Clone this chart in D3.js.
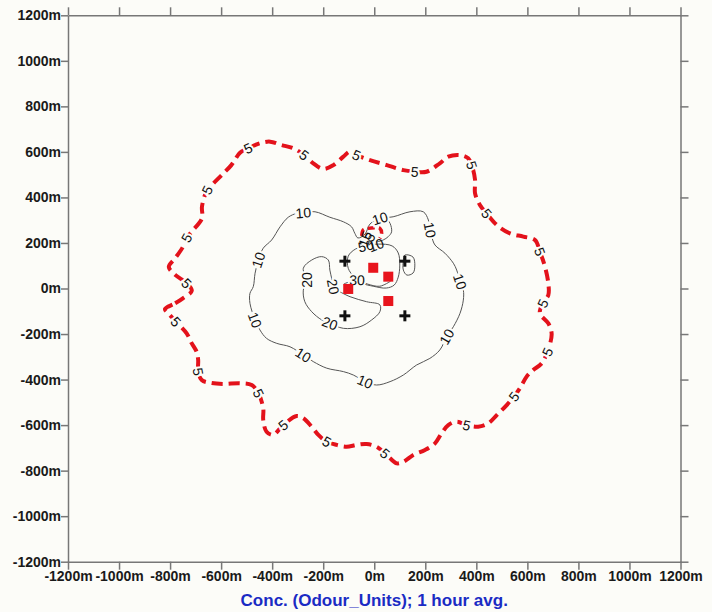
<!DOCTYPE html>
<html lang="en">
<head>
<meta charset="UTF-8">
<title>Odour contours</title>
<script src="https://d3js.org/d3.v7.min.js"></script>
<style>
    body { margin: 0; background: #fcfcf8; }
    .axis path, .axis line { stroke: #777; stroke-width: 1.5px; fill: none; }
    .axis text { font-family: "Liberation Sans", Arial, sans-serif; font-size: 14px; font-weight: bold; fill: #1a1a1a; }
    .clabel { font-family: "Liberation Sans", Arial, sans-serif; font-size: 14px; fill: #111;
              paint-order: stroke; stroke: #fcfcf8; stroke-width: 4px; }
</style>
</head>
<body>
<svg id="chart" width="712" height="612"></svg>
<script>
// axis ticks (metres)
const ticks = [-1200, -1000, -800, -600, -400, -200, 0, 200, 400, 600, 800, 1000, 1200];

// 5 OU contour (red dashed), [x, y] in metres
const c5 = [[-820,-90],[-780,-65],[-750,-43],[-715,-10],[-735,23],[-780,60],[-805,95],[-780,133],
    [-750,182],[-735,222],[-715,250],[-675,308],[-675,360],[-655,432],[-630,462],[-598,498],
    [-560,542],[-526,596],[-494,616],[-448,638],[-408,645],[-363,630],[-317,616],[-275,586],
    [-239,550],[-200,525],[-160,542],[-121,579],[-95,601],[-69,586],[-17,564],[49,542],
    [114,520],[159,513],[205,513],[257,550],[290,579],[336,586],[368,572],[382,542],
    [395,477],[395,418],[414,367],[440,330],[480,279],[532,242],[584,228],[630,213],
    [649,162],[669,96],[682,23],[682,-29],[660,-65],[649,-109],[682,-153],[695,-197],
    [688,-248],[679,-278],[656,-329],[623,-358],[597,-387],[571,-438],[547,-475],[519,-512],
    [480,-556],[447,-592],[407,-607],[362,-600],[323,-585],[290,-600],[264,-636],[238,-680],
    [199,-709],[153,-731],[114,-761],[88,-768],[62,-746],[42,-724],[9,-695],[-30,-683],
    [-69,-687],[-108,-695],[-147,-687],[-186,-673],[-219,-643],[-245,-607],[-278,-570],[-304,-560],
    [-357,-600],[-396,-643],[-422,-629],[-435,-578],[-435,-526],[-454,-460],[-480,-424],[-526,-416],
    [-592,-419],[-644,-414],[-676,-402],[-690,-365],[-690,-314],[-696,-278],[-715,-241],[-735,-197],
    [-777,-146],[-807,-109]];
const c5Labels = [4, 9, 13, 18, 23, 29, 33, 39, 43, 48, 52, 57, 62, 67, 77, 83, 88, 93, 99, 104];

// small 5 OU piece near the centre
const c5Inner = [[-49,231],[-43,257],[-24,264],[3,267],[22,264],[29,242],[22,220]];

// 10 OU contour
const c10 = [[22,308],[74,315],[140,337],[192,337],[212,301],[218,257],[225,228],[238,191],
    [277,155],[310,111],[323,81],[336,30],[349,-7],[349,-51],[336,-109],[310,-168],
    [284,-212],[257,-270],[218,-307],[166,-336],[114,-380],[62,-409],[9,-424],[-36,-409],
    [-82,-380],[-121,-365],[-186,-350],[-239,-321],[-278,-292],[-330,-256],[-382,-241],[-422,-219],
    [-448,-182],[-467,-138],[-487,-65],[-487,-21],[-474,8],[-467,67],[-454,125],[-435,177],
    [-402,213],[-369,271],[-337,313],[-304,330],[-278,333],[-232,337],[-174,313],[-121,293],
    [-89,271],[-76,242],[-64,222],[-36,239],[-17,283]];
const c10Labels = [0, 5, 11, 16, 23, 28, 33, 38, 44];
const c10Hook = [[49,305],[62,286],[68,249],[55,228],[35,213],[7,204]];
const c10Loop = [[120,147],[152,138],[159,99],[152,68],[128,59],[114,81],[114,121]];

// 20 OU contour
const c20 = [[-147,-7],[-95,-36],[-30,-58],[22,-72],[22,-102],[-10,-138],[-56,-168],[-121,-175],
    [-174,-153],[-206,-138],[-245,-102],[-272,-58],[-278,-7],[-265,37],[-278,89],[-245,125],
    [-206,140],[-180,125],[-174,81],[-167,45],[-161,8]];
const c20Labels = [8, 13, 20];

// 30 and 50 OU contours around the sources
const c30 = [[-119,20],[-67,37],[-25,19],[22,10],[64,32]];
const c30Labels = [1];
const c50 = [[-33,187],[16,195],[70,187],[94,156],[100,103],[94,50],[78,15],[47,2],
    [-4,10],[-47,23],[-78,50],[-102,89],[-102,142],[-74,173]];
const c50Labels = [0];
const freeLabels = [[-36,217,"15",-70],[-17,226,"5",-60],[7,191,"10",-20]];

// sources and receptors
const sources = [[-4,91],[55,52],[-102,-2],[55,-55]];
const crosses = [[-115,120],[120,120],[-115,-120],[120,-120]];

const svg = d3.select("#chart");
const x = d3.scaleLinear().domain([-1200, 1200]).range([68, 680.5]);
const y = d3.scaleLinear().domain([-1200, 1200]).range([561.7, 15.3]);

svg.append("rect").attr("width", 712).attr("height", 612).attr("fill", "#fcfcf8");

// axes
svg.append("g").attr("class", "axis").attr("transform", `translate(0,${y(-1200)})`)
    .call(d3.axisBottom(x).tickValues(ticks).tickSize(8).tickSizeOuter(0).tickPadding(1).tickFormat(d => d + "m"));
svg.append("g").attr("class", "axis").attr("transform", `translate(${x(-1200)},0)`)
    .call(d3.axisLeft(y).tickValues(ticks).tickSize(7).tickSizeOuter(0).tickPadding(0).tickFormat(d => d + "m"));
svg.append("g").attr("class", "axis").attr("transform", `translate(0,${y(1200)})`)
    .call(d3.axisTop(x).tickValues(ticks).tickSize(8).tickSizeOuter(0).tickFormat(""));
svg.append("g").attr("class", "axis").attr("transform", `translate(${x(1200)},0)`)
    .call(d3.axisRight(y).tickValues(ticks).tickSize(8).tickSizeOuter(0).tickFormat(""));

const lineOpen = d3.line().x(d => x(d[0])).y(d => y(d[1])).curve(d3.curveCatmullRom.alpha(0.5));
const lineClosed = d3.line().x(d => x(d[0])).y(d => y(d[1])).curve(d3.curveCatmullRomClosed.alpha(0.5));

function drawContour(pts, closed, color, width, dash) {
    svg.append("path")
        .attr("d", closed ? lineClosed(pts) : lineOpen(pts))
        .attr("fill", "none")
        .attr("stroke", color)
        .attr("stroke-width", width)
        .attr("stroke-dasharray", dash)
        .attr("stroke-linejoin", "round");
}

function drawLabels(pts, idx, text, closed) {
    const n = pts.length;
    idx.forEach(i => {
        const a = pts[closed ? (i - 1 + n) % n : Math.max(i - 1, 0)];
        const b = pts[closed ? (i + 1) % n : Math.min(i + 1, n - 1)];
        let ang = Math.atan2(y(b[1]) - y(a[1]), x(b[0]) - x(a[0])) * 180 / Math.PI;
        if (ang > 90) ang -= 180;
        if (ang < -90) ang += 180;
        svg.append("text").attr("class", "clabel")
            .attr("transform", `translate(${x(pts[i][0])},${y(pts[i][1])}) rotate(${ang})`)
            .attr("text-anchor", "middle").attr("dy", "0.36em")
            .text(text);
    });
}

drawContour(c10, true, "#555", 1, null);
drawContour(c10Hook, false, "#555", 1, null);
drawContour(c10Loop, true, "#555", 1, null);
drawContour(c20, false, "#555", 1, null);
drawContour(c30, false, "#555", 1, null);
drawContour(c50, true, "#555", 1, null);
drawContour(c5, true, "#e3121b", 4, "11,6");
drawContour(c5Inner, false, "#e3121b", 3.5, "7,4");

drawLabels(c10, c10Labels, "10", true);
drawLabels(c20, c20Labels, "20", false);
drawLabels(c30, c30Labels, "30", false);
drawLabels(c50, c50Labels, "50", true);
drawLabels(c5, c5Labels, "5", true);
freeLabels.forEach(d => {
    svg.append("text").attr("class", "clabel")
        .attr("transform", `translate(${x(d[0])},${y(d[1])}) rotate(${d[3]})`)
        .attr("text-anchor", "middle").attr("dy", "0.36em")
        .style("stroke-width", "0px")
        .text(d[2]);
});

// sources (red squares)
svg.selectAll("rect.src").data(sources).enter().append("rect")
    .attr("class", "src")
    .attr("x", d => x(d[0]) - 5).attr("y", d => y(d[1]) - 5)
    .attr("width", 10).attr("height", 10)
    .attr("fill", "#e8141c");

// receptors (crosses)
const cr = svg.selectAll("g.cross").data(crosses).enter().append("g")
    .attr("class", "cross")
    .attr("transform", d => `translate(${x(d[0])},${y(d[1])})`);
cr.append("line").attr("x1", -5.5).attr("x2", 5.5).attr("stroke", "#111").attr("stroke-width", 3);
cr.append("line").attr("y1", -5.5).attr("y2", 5.5).attr("stroke", "#111").attr("stroke-width", 3);

// caption
svg.append("text")
    .attr("x", x(0)).attr("y", 606)
    .attr("text-anchor", "middle")
    .style("font-family", "'Liberation Sans', Arial, sans-serif")
    .style("font-size", "17px").style("font-weight", "bold")
    .attr("fill", "#1a2bc4")
    .text("Conc. (Odour_Units); 1 hour avg.");
</script>
</body>
</html>
